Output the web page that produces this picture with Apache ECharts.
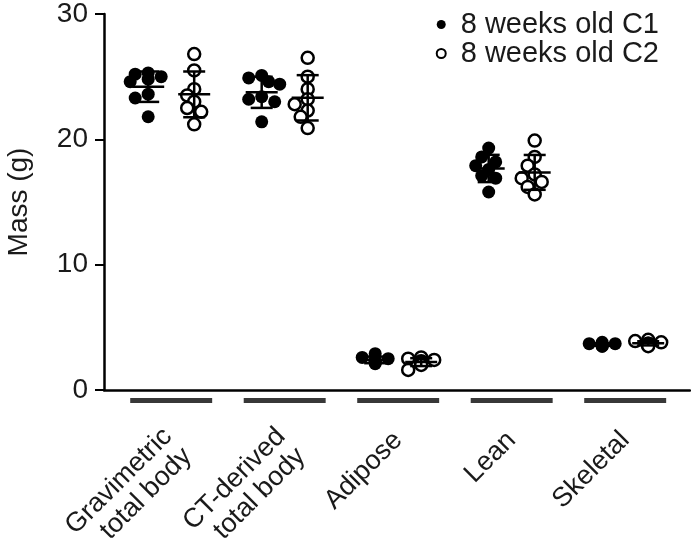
<!DOCTYPE html>
<html><head><meta charset="utf-8">
<script src="https://cdn.jsdelivr.net/npm/echarts@6/dist/echarts.min.js"></script>
<style>html,body{margin:0;padding:0;background:#fff}#c{width:691px;height:544px}</style>
</head><body><div id="c"></div>
<script>
const categories = ['Gravimetric\ntotal body', 'CT-derived\ntotal body', 'Adipose', 'Lean', 'Skeletal'];
const seriesNames = ['8 weeks old C1', '8 weeks old C2'];
const c1Values = [
  [25.3, 25.2, 25.0, 24.8, 24.6, 23.6, 23.3, 21.8],
  [25.1, 24.9, 24.6, 24.4, 23.4, 23.2, 23.0, 21.4],
  [2.9, 2.6, 2.5, 2.4, 2.3, 2.2, 2.2, 2.1],
  [19.3, 18.6, 18.2, 17.9, 17.6, 17.1, 16.9, 15.8],
  [3.8, 3.7, 3.7, 3.6, 3.6, 3.6, 3.5, 3.5]
];
const c2Values = [
  [26.8, 25.5, 24.0, 23.5, 23.0, 22.5, 22.2, 21.2],
  [26.5, 25.0, 24.0, 23.2, 22.8, 22.3, 21.8, 20.9],
  [2.6, 2.5, 2.4, 2.3, 2.2, 2.2, 2.0, 1.6],
  [19.9, 18.6, 17.9, 17.2, 16.9, 16.6, 16.2, 15.6],
  [4.0, 3.9, 3.8, 3.7, 3.7, 3.6, 3.6, 3.5]
];
const yTicks = [0, 10, 20, 30];

const FONT = '"Liberation Sans", Arial, sans-serif';
const TXT = '#1a1a1a';
const pxPerUnit = 376 / 30;
const groupOffset = [-23, 23];

function beeswarm(vals) {
  const placed = [];
  const order = vals.map((v, k) => k).sort((a, b) => vals[b] - vals[a]);
  const offs = new Array(vals.length).fill(0);
  const cands = [0, -7, 7, -13, 13, -18, 18];
  order.forEach(k => {
    const y = vals[k] * pxPerUnit;
    for (const c of cands) {
      const ok = placed.every(p => Math.hypot(p[0] - c, p[1] - y) >= 9);
      if (ok) { offs[k] = c; placed.push([c, y]); return; }
    }
    offs[k] = 0; placed.push([0, y]);
  });
  return offs;
}
function meanSd(a) {
  const m = a.reduce((s, v) => s + v, 0) / a.length;
  const sd = Math.sqrt(a.reduce((s, v) => s + (v - m) * (v - m), 0) / (a.length - 1));
  return [m, sd];
}
function scatterData(all, si) {
  const out = [];
  all.forEach((vals, gi) => {
    const offs = beeswarm(vals);
    vals.forEach((v, k) => out.push({ value: [gi, v], symbolOffset: [groupOffset[si] + offs[k], 0] }));
  });
  return out;
}
function errData(all, si) {
  return all.map((vals, gi) => { const ms = meanSd(vals); return [gi, ms[0], ms[1], groupOffset[si]]; });
}
function errRender(params, api) {
  const i = api.value(0), m = api.value(1), sd = api.value(2), off = api.value(3);
  const pc = api.coord([i, m]), pt = api.coord([i, m + sd]), pb = api.coord([i, m - sd]);
  const x = pc[0] + off;
  const st = { stroke: '#000', lineWidth: 2.5 };
  return { type: 'group', children: [
    { type: 'line', shape: { x1: x, y1: pt[1], x2: x, y2: pb[1] }, style: st },
    { type: 'line', shape: { x1: x - 16, y1: pc[1], x2: x + 16, y2: pc[1] }, style: st },
    { type: 'line', shape: { x1: x - 11, y1: pt[1], x2: x + 11, y2: pt[1] }, style: st },
    { type: 'line', shape: { x1: x - 11, y1: pb[1], x2: x + 11, y2: pb[1] }, style: st }
  ]};
}
function barRender(params, api) {
  const i = api.value(0);
  const a = api.coord([i - 0.361, 0]), b = api.coord([i + 0.361, 0]);
  return { type: 'rect', shape: { x: a[0], y: a[1] + 8, width: b[0] - a[0], height: 5 }, style: { fill: '#383838' } };
}

const chart = echarts.init(document.getElementById('c'), null, { renderer: 'canvas' });
chart.setOption({
  animation: false,
  backgroundColor: '#fff',
  textStyle: { fontFamily: FONT },
  grid: { left: 104, right: 1, top: 14, bottom: 154, containLabel: false, outerBoundsMode: 'none' },
  legend: {
    data: [
      { name: seriesNames[0], icon: 'circle' },
      { name: seriesNames[1], icon: 'circle' }
    ],
    orient: 'vertical', right: 27, top: 5, itemGap: 0, itemWidth: 9, itemHeight: 9,
    textStyle: { fontSize: 29, color: TXT, fontFamily: FONT, lineHeight: 28, padding: [0, 0, 0, 10] }
  },
  xAxis: {
    type: 'value', min: -0.592, max: 4.571,
    splitLine: { show: false },
    axisLine: { show: true, onZero: false, lineStyle: { color: '#000', width: 2.5 } },
    axisTick: { show: false },
    axisLabel: {
      customValues: categories.map((c, i) => i),
      hideOverlap: false,
      formatter: v => { const s = categories[Math.round(v)]; return s.indexOf('\n') >= 0 ? '{p| }\n' + s : s; },
      rich: { p: { fontSize: 10, height: 18, lineHeight: 18 } },
      rotate: 45, margin: 46, fontSize: 27, color: TXT, fontFamily: FONT, lineHeight: 28
    }
  },
  yAxis: {
    type: 'value', min: yTicks[0], max: yTicks[yTicks.length - 1], interval: 10,
    name: 'Mass (g)', nameLocation: 'middle', nameGap: 71,
    nameTextStyle: { fontSize: 28, color: TXT, fontFamily: FONT },
    splitLine: { show: false },
    axisLine: { show: true, onZero: false, lineStyle: { color: '#000', width: 2.5 } },
    axisTick: { show: true, length: 9, lineStyle: { color: '#000', width: 2 } },
    axisLabel: { fontSize: 28, color: TXT, margin: 16, fontFamily: FONT }
  },
  series: [
    { type: 'custom', name: 'bars', renderItem: barRender, data: categories.map((c, i) => [i]), clip: false, silent: true, z: 1 },
    { type: 'scatter', name: seriesNames[0], symbol: 'circle', symbolSize: 13,
      itemStyle: { color: '#000', opacity: 1 }, data: scatterData(c1Values, 0), z: 3 },
    { type: 'scatter', name: seriesNames[1], symbol: 'circle', symbolSize: 12,
      itemStyle: { color: '#fff', borderColor: '#000', borderWidth: 2.5, opacity: 1 }, data: scatterData(c2Values, 1), z: 3 },
    { type: 'custom', name: 'err1', renderItem: errRender, data: errData(c1Values, 0), z: 5, silent: true },
    { type: 'custom', name: 'err2', renderItem: errRender, data: errData(c2Values, 1), z: 5, silent: true }
  ]
});
</script></body></html>
